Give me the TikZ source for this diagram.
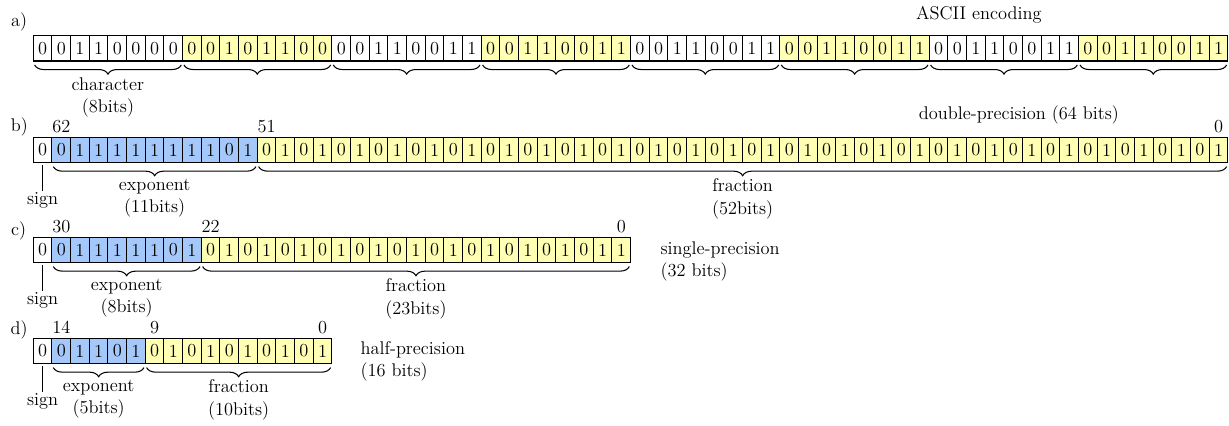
\documentclass[tikz,border=0pt]{standalone}
\usepackage{tikz}
\usetikzlibrary{positioning,chains,decorations.pathreplacing}
\definecolor{myyellow}{RGB}{255,255,180}
\definecolor{myblue}{RGB}{165,200,250}

\begin{document}
\begin{tikzpicture}[line width=0.8pt,
		  font=\fontsize{14}{17}\selectfont,
		  bit/.style={draw,minimum width=5mm,minimum height=6.78mm,inner sep=0pt,outer sep=0pt},
		  sgnode/.style={bit,fill=white},
		  exnode/.style={bit,fill=myblue},
		  frnode/.style={bit,fill=myyellow},
		  brc/.style={decorate,decoration={brace,mirror,amplitude=7pt,raise=3pt}},
		  blabel/.style={midway,below=11pt,inner sep=1pt,align=center},
		  num/.style={anchor=south,inner sep=3pt},
		  sgn/.style={inner sep=1pt},
		  captxt/.style={align=left,anchor=west,inner sep=0pt}
		]
			\useasboundingbox (0,0) rectangle (32.92,-11.384);

			% a) the characters
			\begin{scope}[xshift=1.142cm,yshift=-1.295cm,start chain=going right,node distance=0pt]
			\foreach \b [count=\i] in {0,0,1,1,0,0,0,0, 0,0,1,0,1,1,0,0, 0,0,1,1,0,0,1,1, 0,0,1,1,0,0,1,1,
			                           0,0,1,1,0,0,1,1, 0,0,1,1,0,0,1,1, 0,0,1,1,0,0,1,1, 0,0,1,1,0,0,1,1}{
			  \pgfmathtruncatemacro\byte{mod(floor((\i-1)/8),2)}
			  \ifnum\byte=1
			    \node[frnode,on chain] (a\i) {\b};
			  \else
			    \node[sgnode,on chain] (a\i) {\b};
			  \fi
			}
			\end{scope}

			% b) double
			\begin{scope}[xshift=1.142cm,yshift=-4.017cm,start chain=going right,node distance=0pt]
			  \node[sgnode,on chain] (b1) {0};
			\foreach \b [count=\i from 2] in {0,1,1,1,1,1,1,1,1,0,1}
			  \node[exnode,on chain] (b\i) {\b};
			\foreach \b [count=\i from 13] in {0,1,0,1,0,1,0,1,0,1,0,1,0,1,0,1,0,1,0,1,0,1,0,1,0,1,
			                                   0,1,0,1,0,1,0,1,0,1,0,1,0,1,0,1,0,1,0,1,0,1,0,1,0,1}
			  \node[frnode,on chain] (b\i) {\b};
			\end{scope}

			% c) single
			\begin{scope}[xshift=1.142cm,yshift=-6.695cm,start chain=going right,node distance=0pt]
			  \node[sgnode,on chain] (c1) {0};
			\foreach \b [count=\i from 2] in {0,1,1,1,1,1,0,1}
			  \node[exnode,on chain] (c\i) {\b};
			\foreach \b [count=\i from 10] in {0,1,0,1,0,1,0,1,0,1,0,1,0,1,0,1,0,1,0,1,0,1,1}
			  \node[frnode,on chain] (c\i) {\b};
			\end{scope}

			% d) half
			\begin{scope}[xshift=1.142cm,yshift=-9.401cm,start chain=going right,node distance=0pt]
			  \node[sgnode,on chain] (d1) {0};
			\foreach \b [count=\i from 2] in {0,1,1,0,1}
			  \node[exnode,on chain] (d\i) {\b};
			\foreach \b [count=\i from 7] in {0,1,0,1,0,1,0,1,0,1}
			  \node[frnode,on chain] (d\i) {\b};
			\end{scope}

			% the row tags and captions
			\node (ta) at (0.509,-0.589) {a)};
			\node (tb) at (0.522,-3.402) {b)};
			\node (tc) at (0.496,-6.188) {c)};
			\node (td) at (0.509,-8.84) {d)};
			\node (ascii) at (26.22,-0.40) {ASCII encoding};
			\node (dbl) at (27.29,-3.08) {double-precision (64 bits)};
			\node[captxt] (sgl) at (17.68,-7.005) {single-precision\\(32 bits)};
			\node[captxt] (hlf) at (9.643,-9.683) {half-precision\\(16 bits)};

			% bit positions
			\node[num] (n62) at (b2.north) {62};
			\node[num] (n51) at (b13.north) {51};
			\node[num] (n0b) at (b64.north) {0};
			\node[num] (n30) at (c2.north) {30};
			\node[num] (n22) at (c10.north) {22};
			\node[num] (n0c) at (c32.north) {0};
			\node[num] (n14) at (d2.north) {14};
			\node[num] (n9) at (d7.north) {9};
			\node[num] (n0d) at (d16.north) {0};

			% the braces
			\draw[brc] ([xshift=1pt]a1.south west) -- ([xshift=-1pt]a8.south east) node[blabel] (chr) {character\\(8bits)};
			\foreach \k in {1,...,7}{
			  \pgfmathtruncatemacro\s{8*\k+1}
			  \pgfmathtruncatemacro\e{8*\k+8}
			  \draw[brc] ([xshift=1pt]a\s.south west) -- ([xshift=-1pt]a\e.south east);
			}
			\draw[brc] ([xshift=1pt]b2.south west) -- ([xshift=-1pt]b12.south east) node[blabel] (bexp) {exponent\\(11bits)};
			\draw[brc] ([xshift=1pt]b13.south west) -- ([xshift=-1pt]b64.south east) node[blabel] (bfrac) {fraction\\(52bits)};
			\draw[brc] ([xshift=1pt]c2.south west) -- ([xshift=-1pt]c9.south east) node[blabel] (cexp) {exponent\\(8bits)};
			\draw[brc] ([xshift=1pt]c10.south west) -- ([xshift=-1pt]c32.south east) node[blabel] (cfrac) {fraction\\(23bits)};
			\draw[brc] ([xshift=1pt]d2.south west) -- ([xshift=-1pt]d6.south east) node[blabel] (dexp) {exponent\\(5bits)};
			\draw[brc] ([xshift=1pt]d7.south west) -- ([xshift=-1pt]d16.south east) node[blabel] (dfrac) {fraction\\(10bits)};

			% the sign bits
			\node[sgn,below=7.6mm of b1] (bsign) {sign};
			\node[sgn,below=7.6mm of c1] (csign) {sign};
			\node[sgn,below=7.6mm of d1] (dsign) {sign};
			\draw[shorten <=2pt] (b1) -- (bsign);
			\draw[shorten <=2pt] (c1) -- (csign);
			\draw[shorten <=2pt] (d1) -- (dsign);

		\end{tikzpicture}
\end{document}
